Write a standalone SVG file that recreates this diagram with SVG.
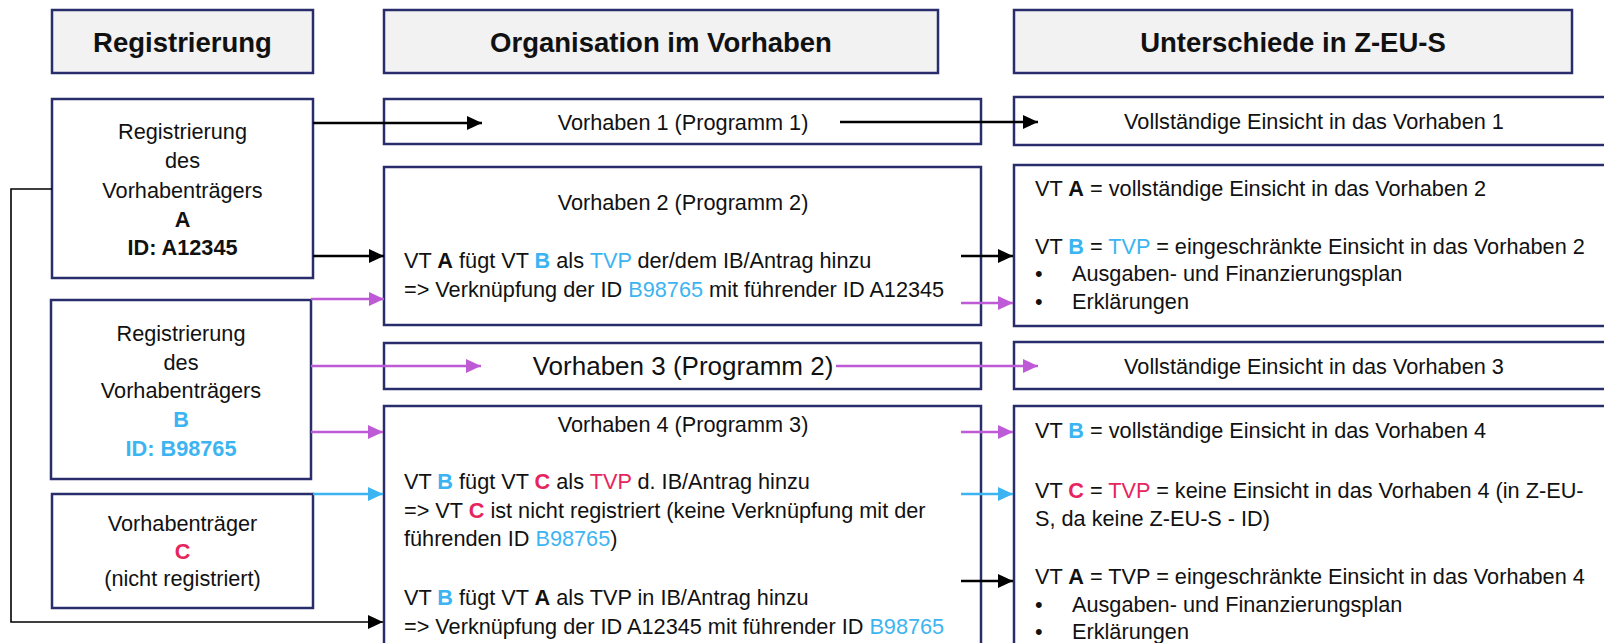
<svg xmlns="http://www.w3.org/2000/svg" width="1604" height="643" viewBox="0 0 1604 643">
<style>
.box{fill:#ffffff;stroke:#2a2d6c;stroke-width:2.5}
.hdr{fill:#f2f2f2;stroke:#2a2d6c;stroke-width:2.5}
text{font-family:"Liberation Sans",Arial,sans-serif;fill:#111111}
.h{font-size:27.5px;font-weight:bold;text-anchor:middle}
.t{font-size:21.7px}
.c{text-anchor:middle}
.b{font-weight:bold}
.cy{fill:#3cb4f2}
.rd{fill:#e6245e}
.k{fill:none;stroke:#000000;stroke-width:2.3}
.kt{fill:none;stroke:#000000;stroke-width:1.6}
.p{fill:none;stroke:#bf5ad6;stroke-width:2.3}
.q{fill:none;stroke:#3cb4f2;stroke-width:2.3}
</style>
<defs>
<marker id="ak" markerUnits="userSpaceOnUse" markerWidth="16" markerHeight="14" refX="15" refY="7" orient="auto"><path d="M0,0 L15,7 L0,14 z" fill="#000000"/></marker>
<marker id="ap" markerUnits="userSpaceOnUse" markerWidth="16" markerHeight="14" refX="15" refY="7" orient="auto"><path d="M0,0 L15,7 L0,14 z" fill="#bf5ad6"/></marker>
<marker id="aq" markerUnits="userSpaceOnUse" markerWidth="16" markerHeight="14" refX="15" refY="7" orient="auto"><path d="M0,0 L15,7 L0,14 z" fill="#3cb4f2"/></marker>
</defs>
<rect width="1604" height="643" fill="#ffffff"/>

<g id="hdr-registrierung"><rect class="hdr" x="52" y="10" width="261" height="63"/><text class="h" x="182.5" y="52">Registrierung</text></g>
<g id="hdr-organisation"><rect class="hdr" x="384" y="10" width="554" height="63"/><text class="h" x="661" y="52">Organisation im Vorhaben</text></g>
<g id="hdr-unterschiede"><rect class="hdr" x="1014" y="10" width="558" height="63"/><text class="h" x="1293" y="52">Unterschiede in Z-EU-S</text></g>

<g id="node-a"><rect class="box" x="52" y="99" width="261" height="179"/>
<text class="t c" x="182.5" y="139">Registrierung</text>
<text class="t c" x="182.5" y="168">des</text>
<text class="t c" x="182.5" y="197.5">Vorhabenträgers</text>
<text class="t c b" x="182.5" y="226.5">A</text>
<text class="t c b" x="182.5" y="255">ID: A12345</text></g>

<g id="node-b"><rect class="box" x="51" y="300" width="260" height="179"/>
<text class="t c" x="181" y="341">Registrierung</text>
<text class="t c" x="181" y="369.5">des</text>
<text class="t c" x="181" y="398">Vorhabenträgers</text>
<text class="t c b cy" x="181" y="427">B</text>
<text class="t c b cy" x="181" y="456">ID: B98765</text></g>

<g id="node-c"><rect class="box" x="52" y="494" width="261" height="114"/>
<text class="t c" x="182.5" y="531">Vorhabenträger</text>
<text class="t c b rd" x="182.5" y="558.5">C</text>
<text class="t c" x="182.5" y="586">(nicht registriert)</text></g>

<g id="v1"><rect class="box" x="384" y="99" width="597" height="45"/>
<text class="t c" x="683" y="129.5">Vorhaben 1 (Programm 1)</text></g>

<g id="v2"><rect class="box" x="384" y="167" width="597" height="158"/>
<text class="t c" x="683" y="210">Vorhaben 2 (Programm 2)</text>
<text class="t" x="404" y="268">VT <tspan class="b">A</tspan> fügt VT <tspan class="b cy">B</tspan> als <tspan class="cy">TVP</tspan> der/dem IB/Antrag hinzu</text>
<text class="t" x="404" y="297">=&gt; Verknüpfung der ID <tspan class="cy">B98765</tspan> mit führender ID A12345</text></g>

<g id="v3"><rect class="box" x="384" y="343" width="597" height="46"/>
<text class="c" style="font-size:26px" x="683" y="375">Vorhaben 3 (Programm 2)</text></g>

<g id="v4"><rect class="box" x="384" y="406" width="597" height="250"/>
<text class="t c" x="683" y="432">Vorhaben 4 (Programm 3)</text>
<text class="t" x="404" y="489">VT <tspan class="b cy">B</tspan> fügt VT <tspan class="b rd">C</tspan> als <tspan class="rd">TVP</tspan> d. IB/Antrag hinzu</text>
<text class="t" x="404" y="517.5">=&gt; VT <tspan class="b rd">C</tspan> ist nicht registriert (keine Verknüpfung mit der</text>
<text class="t" x="404" y="546">führenden ID <tspan class="cy">B98765</tspan>)</text>
<text class="t" x="404" y="605">VT <tspan class="b cy">B</tspan> fügt VT <tspan class="b">A</tspan> als TVP in IB/Antrag hinzu</text>
<text class="t" x="404" y="633.5">=&gt; Verknüpfung der ID A12345 mit führender ID <tspan class="cy">B98765</tspan></text></g>

<g id="e1"><rect class="box" x="1014" y="97" width="610" height="48"/>
<text class="t c" x="1314" y="128.5">Vollständige Einsicht in das Vorhaben 1</text></g>

<g id="e2"><rect class="box" x="1014" y="165" width="610" height="161"/>
<text class="t" x="1035" y="196">VT <tspan class="b">A</tspan> = vollständige Einsicht in das Vorhaben 2</text>
<text class="t" x="1035" y="253.5">VT <tspan class="b cy">B</tspan> = <tspan class="cy">TVP</tspan> = eingeschränkte Einsicht in das Vorhaben 2</text>
<text class="t" x="1035" y="281">•</text><text class="t" x="1072" y="281">Ausgaben- und Finanzierungsplan</text>
<text class="t" x="1035" y="308.5">•</text><text class="t" x="1072" y="308.5">Erklärungen</text></g>

<g id="e3"><rect class="box" x="1014" y="342" width="610" height="47"/>
<text class="t c" x="1314" y="374">Vollständige Einsicht in das Vorhaben 3</text></g>

<g id="e4"><rect class="box" x="1014" y="406" width="610" height="250"/>
<text class="t" x="1035" y="437.5">VT <tspan class="b cy">B</tspan> = vollständige Einsicht in das Vorhaben 4</text>
<text class="t" x="1035" y="498">VT <tspan class="b rd">C</tspan> = <tspan class="rd">TVP</tspan> = keine Einsicht in das Vorhaben 4 (in Z-EU-</text>
<text class="t" x="1035" y="526">S, da keine Z-EU-S - ID)</text>
<text class="t" x="1035" y="584">VT <tspan class="b">A</tspan> = TVP = eingeschränkte Einsicht in das Vorhaben 4</text>
<text class="t" x="1035" y="611.5">•</text><text class="t" x="1072" y="611.5">Ausgaben- und Finanzierungsplan</text>
<text class="t" x="1035" y="639">•</text><text class="t" x="1072" y="639">Erklärungen</text></g>

<g id="connectors">
<path class="k" d="M313,123 H482" marker-end="url(#ak)"/>
<path class="k" d="M840,122 H1038" marker-end="url(#ak)"/>
<path class="k" d="M313,256 H384" marker-end="url(#ak)"/>
<path class="k" d="M961,256 H1013" marker-end="url(#ak)"/>
<path class="kt" d="M52,189 H11 V622 H383" marker-end="url(#ak)"/>
<path class="k" d="M961,581 H1013" marker-end="url(#ak)"/>
<path class="p" d="M311,299 H384" marker-end="url(#ap)"/>
<path class="p" d="M961,303 H1013" marker-end="url(#ap)"/>
<path class="p" d="M311,366 H481" marker-end="url(#ap)"/>
<path class="p" d="M836,366 H1038" marker-end="url(#ap)"/>
<path class="p" d="M311,432 H383" marker-end="url(#ap)"/>
<path class="p" d="M961,432 H1013" marker-end="url(#ap)"/>
<path class="q" d="M313,494 H383" marker-end="url(#aq)"/>
<path class="q" d="M961,494 H1013" marker-end="url(#aq)"/>
</g>
</svg>
